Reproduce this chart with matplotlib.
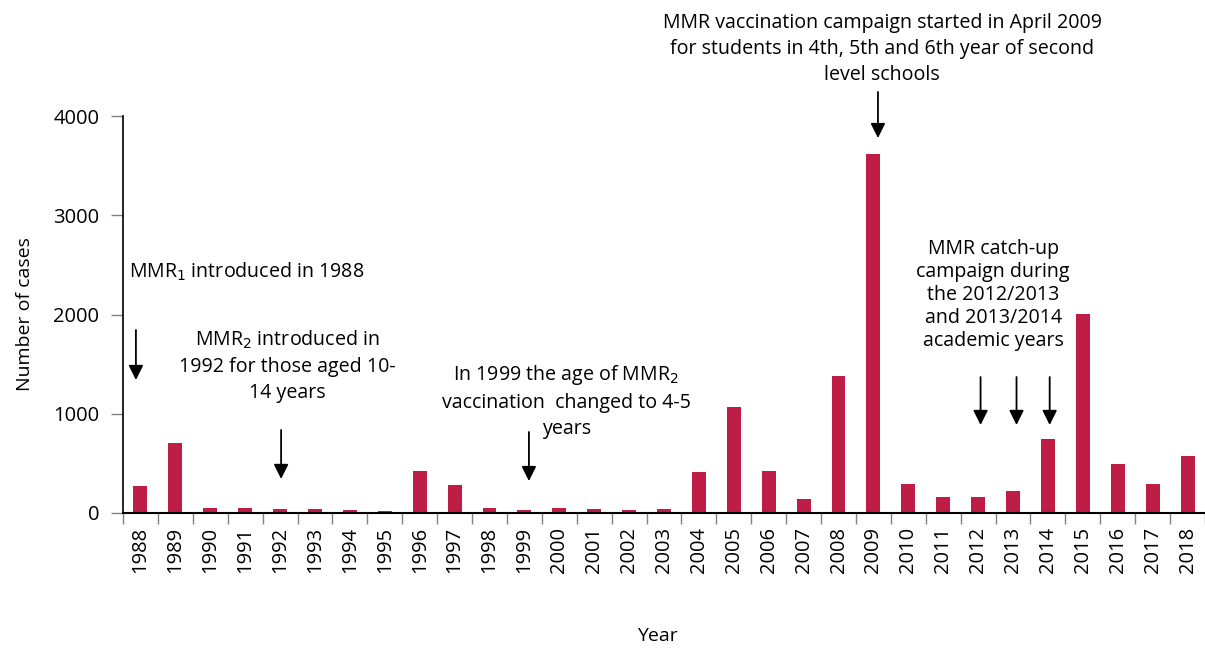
import matplotlib.pyplot as plt
import numpy as np

plt.rcParams['font.family'] = ['Open Sans', 'DejaVu Sans']

years = [str(y) for y in range(1988, 2019)]
cases = [270, 705, 50, 50, 40, 40, 30, 20, 423, 282, 55, 35, 50, 40, 30, 40,
         415, 1071, 426, 138, 1380, 3617, 292, 161, 161, 222, 743, 2005, 490, 292, 571]

bar_color = '#BE1E45'

fig = plt.figure(figsize=(12.05, 6.49), dpi=100)
ax = fig.add_axes([123 / 1205, 1 - 513 / 649, 1 - 123 / 1205, (513 - 116) / 649])

x = np.arange(len(years))
ax.bar(x, cases, width=0.4, color=bar_color)

ax.set_xlim(-0.5, len(years) - 0.5)
ax.set_ylim(0, 4000)
ax.set_yticks([0, 1000, 2000, 3000, 4000])
ax.set_xticks(x)
ax.set_xticklabels(years, rotation=90)
ax.set_xticks(np.arange(-0.5, len(years), 1), minor=True)
ax.tick_params(axis='x', which='major', length=0, pad=10, labelsize=14.5)
ax.tick_params(axis='x', which='minor', length=8, color='#808080', width=1)
ax.tick_params(axis='y', length=9, color='#808080', width=1, pad=8, labelsize=14.5)

for s in ['top', 'right']:
    ax.spines[s].set_visible(False)
ax.spines['left'].set_linewidth(1.2)
ax.spines['bottom'].set_linewidth(1.5)

ax.set_ylabel('Number of cases', fontsize=14, labelpad=14)
fig.text(657 / 1205, 1 - 636 / 649, 'Year', ha='center', va='center', fontsize=14)

fs = 14.1
arrow = dict(arrowstyle='-|>', color='black', lw=1.3, mutation_scale=22, shrinkA=0, shrinkB=0)

# annotations
ax.text(-0.33, 2428, 'MMR$_1$ introduced in 1988', ha='left', va='center', fontsize=fs)
ax.annotate('', xy=(-0.13, 1340), xytext=(-0.13, 1844), arrowprops=arrow, annotation_clip=False)

ax.text(4.2, 1481, 'MMR$_2$ introduced in\n1992 for those aged 10-\n14 years',
        ha='center', va='center', fontsize=fs, linespacing=1.4)
ax.annotate('', xy=(4.03, 343), xytext=(4.03, 836), arrowprops=arrow, annotation_clip=False)

ax.text(12.2, 1128, 'In 1999 the age of MMR$_2$\nvaccination  changed to 4-5\nyears',
        ha='center', va='center', fontsize=fs, linespacing=1.4)
ax.annotate('', xy=(11.13, 322), xytext=(11.13, 816), arrowprops=arrow, annotation_clip=False)

ax.text(21.25, 4675, 'MMR vaccination campaign started in April 2009\nfor students in 4th, 5th and 6th year of second\nlevel schools',
        ha='center', va='center', fontsize=fs, linespacing=1.4)
ax.annotate('', xy=(21.13, 3778), xytext=(21.13, 4242), arrowprops=arrow, annotation_clip=False)

ax.text(24.43, 2196, 'MMR catch-up\ncampaign during\nthe 2012/2013\nand 2013/2014\nacademic years',
        ha='center', va='center', fontsize=fs, linespacing=1.2)
for xi in [24.07, 25.1, 26.05]:
    ax.annotate('', xy=(xi, 887), xytext=(xi, 1370), arrowprops=arrow, annotation_clip=False)

fig.savefig('out.png', dpi=100)
